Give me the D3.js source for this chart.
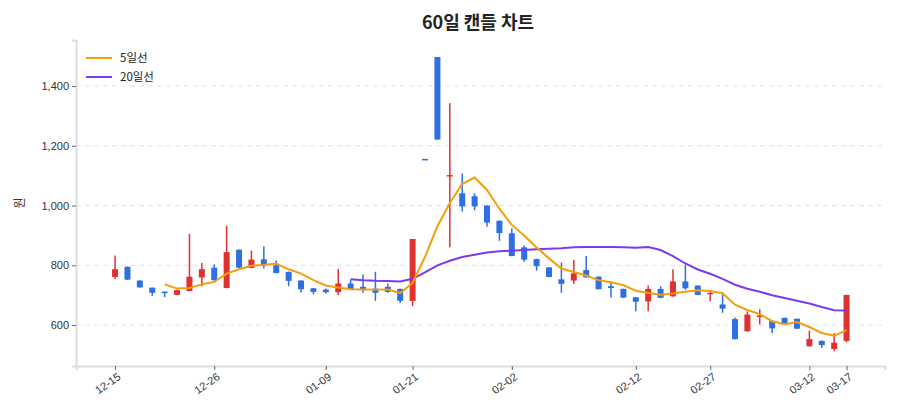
<!DOCTYPE html>
<html><head><meta charset="utf-8">
<script src="https://cdn.jsdelivr.net/npm/d3@7"></script>
<style>body{margin:0;background:#fff;font-family:"Noto Sans CJK KR","Noto Sans",sans-serif}</style>
</head><body><svg id="c" width="900" height="420"></svg>
<script>
const dates=["12-15","12-16","12-17","12-18","12-19","12-22","12-23","12-24","12-26","12-29","12-30","12-31","01-02","01-05","01-06","01-07","01-08","01-09","01-12","01-13","01-14","01-15","01-16","01-19","01-21","01-22","01-23","01-26","01-27","01-28","01-29","01-30","02-02","02-03","02-04","02-05","02-06","02-09","02-10","02-11","02-12a","02-12b","02-12","02-13","02-16","02-19","02-20","02-23","02-27","03-02","03-03","03-04","03-05","03-06","03-09","03-10","03-12","03-13","03-16","03-17"];
const opens=[761,795,749,725,712,701,714,759,792,724,852,791,820,800,778,749,723,719,710,739,728,722,728,721,681,1156,1497,1097,1041,1031,1000,949,907,860,821,793,753,749,784,762,730,721,693,679,721,696,746,732,704,669,620,579,628,614,624,621,529,547,520,547];
const closes=[787,752,726,708,707,717,762,787,750,844,792,819,800,774,748,720,711,710,739,719,717,708,711,681,888,1152,1221,1102,997,997,943,908,831,819,797,761,738,773,760,720,724,692,678,721,691,746,723,701,708,655,553,635,632,589,605,588,553,533,541,701];
const highs=[833,796,750,726,712,718,905,808,803,932,853,849,864,816,779,750,724,722,788,752,769,778,739,722,888,1156,1497,1342,1107,1040,1001,950,924,866,822,794,809,818,831,763,741,722,694,732,730,787,803,733,710,702,625,646,653,615,625,622,581,548,573,701];
const lows=[754,751,725,698,694,700,713,730,749,723,791,790,789,773,730,709,703,706,701,718,708,681,708,674,663,1152,1219,860,980,984,929,882,830,812,782,760,708,738,758,719,692,691,646,646,690,695,718,700,680,641,552,578,602,573,604,587,528,523,512,542];
const tickIdx=[0,8,17,24,32,42,48,56,59];
const tickLabels=["12-15","12-26","01-09","01-21","02-02","02-12","02-27","03-12","03-17"];
const yTicks=[600,800,1000,1200,1400];

function ma(n){return closes.map((c,i)=>i<n-1?null:d3.mean(closes.slice(i-n+1,i+1)));}
const ma5=ma(5),ma20=ma(20);

const svg=d3.select("#c");
const L=76,R=885,T=40,B=366;
const x=d3.scaleLinear().domain([-3.15,62.1]).range([L,R]);
const y=d3.scaleLinear().domain([463,1554]).range([B,T]);

svg.append("text").attr("x",478).attr("y",29).attr("text-anchor","middle").attr("font-size",18).attr("font-weight","bold").attr("fill","#222").text("60일 캔들 차트");
svg.append("text").attr("transform","translate(24,"+((T+B)/2)+") rotate(-90)").attr("text-anchor","middle").attr("font-size",12).attr("fill","#333").text("원");

svg.append("g").selectAll("line").data(yTicks).join("line").attr("x1",L).attr("x2",R).attr("y1",d=>y(d)).attr("y2",d=>y(d)).attr("stroke","#e3e3e3").attr("stroke-dasharray","5,4");

const ya=svg.append("g").attr("transform",`translate(${L},0)`).call(d3.axisLeft(y).tickValues(yTicks).tickFormat(d3.format(",")).tickSize(4));
ya.select(".domain").attr("stroke","#d8dde3").attr("stroke-width",2);
ya.selectAll(".tick line").attr("stroke","#666");
ya.selectAll("text").attr("font-size",11).attr("fill","#333");

const xa=svg.append("g").attr("transform",`translate(0,${B})`).call(d3.axisBottom(x).tickValues(tickIdx).tickFormat((d,i)=>tickLabels[i]).tickSize(4));
xa.select(".domain").attr("stroke","#d8dde3").attr("stroke-width",2);
xa.selectAll(".tick line").attr("stroke","#666");
xa.selectAll("text").attr("font-size",11).attr("fill","#333").attr("text-anchor","end").attr("dx","-0.2em").attr("dy","0.6em").attr("transform","rotate(-35)");

const up="#e03131",dn="#2f6fe4";
const g=svg.append("g");
closes.forEach((c,i)=>{
  const col=c>=opens[i]?up:dn;
  g.append("line").attr("x1",x(i)).attr("x2",x(i)).attr("y1",y(highs[i])).attr("y2",y(lows[i])).attr("stroke",col).attr("stroke-width",1.5);
  const t=y(Math.max(c,opens[i])),b=y(Math.min(c,opens[i]));
  g.append("rect").attr("x",x(i)-3).attr("width",6).attr("y",t).attr("height",Math.max(1.5,b-t)).attr("fill",col);
});

const line=d3.line().defined(d=>d[1]!=null).x(d=>x(d[0])).y(d=>y(d[1]));
svg.append("path").attr("d",line(ma20.map((v,i)=>[i,v]))).attr("fill","none").attr("stroke","#7c3aed").attr("stroke-width",2);
svg.append("path").attr("d",line(ma5.map((v,i)=>[i,v]))).attr("fill","none").attr("stroke","#f59e0b").attr("stroke-width",2);

const lg=svg.append("g");
[["5일선","#f59e0b"],["20일선","#7c3aed"]].forEach((d,i)=>{
  lg.append("line").attr("x1",86).attr("x2",112).attr("y1",58+i*19).attr("y2",58+i*19).attr("stroke",d[1]).attr("stroke-width",2);
  lg.append("text").attr("x",120).attr("y",62+i*19).attr("font-size",11.5).attr("fill","#222").text(d[0]);
});
</script></body></html>
